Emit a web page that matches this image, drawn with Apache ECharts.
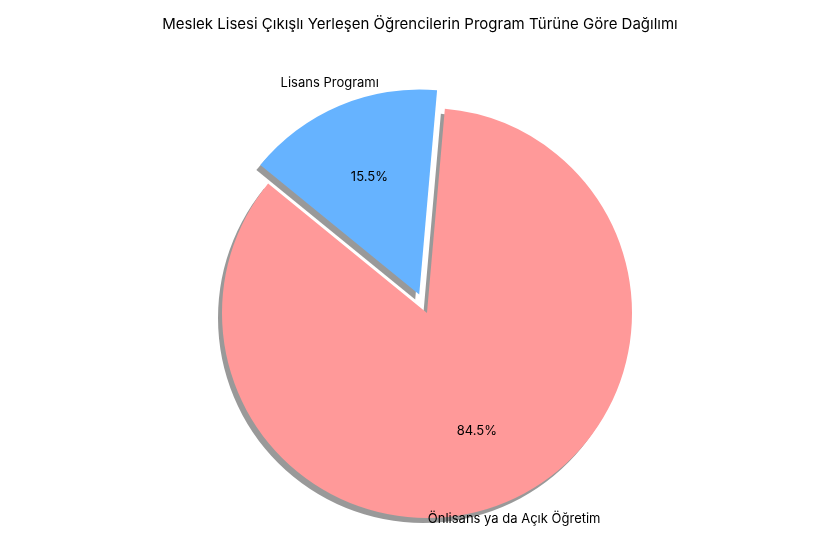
<!DOCTYPE html>
<html><head><meta charset="utf-8">
<script src="https://cdn.jsdelivr.net/npm/echarts@6/dist/echarts.min.js"></script>
<style>html,body{margin:0;background:#fff}#c{width:840px;height:560px}</style>
</head><body><div id="c"></div>
<script>
const categories = ['Lisans Programı', 'Önlisans ya da Açık Öğretim'];
const values = [15.5, 84.5];
const colors = ['#66b3ff', '#ff9999'];
const title = 'Meslek Lisesi Çıkışlı Yerleşen Öğrencilerin Program Türüne Göre Dağılımı';

const chart = echarts.init(document.getElementById('c'));
const R = 205, C = [427, 313];
const font = 'Inter, "Noto Sans", sans-serif';
function base(radius, extra) {
  return Object.assign({
    type: 'pie', center: C, radius: [0, radius], startAngle: 85, clockwise: false,
    selectedMode: 'single', selectedOffset: 20, animation: false, silent: true,
    labelLine: { show: false }
  }, extra);
}
const tr = { color: 'rgba(0,0,0,0)' };
chart.setOption({
  title: { text: title, left: 'center', top: 12, textStyle: { fontFamily: font, fontSize: 15, fontWeight: 'normal', color: '#000' } },
  series: [
    base(R, {
      data: categories.map((n, i) => ({ name: n, value: values[i], selected: i === 0,
        itemStyle: { color: colors[i], shadowColor: 'rgba(0,0,0,0.4)', shadowBlur: 0, shadowOffsetX: -4, shadowOffsetY: 5 } })),
      label: { show: false }
    }),
    base(250, {
      data: categories.map((n, i) => ({ name: n, value: values[i], selected: i === 0, itemStyle: tr })),
      label: { show: true, position: 'inside', formatter: p => values[p.dataIndex].toFixed(1) + '%', fontFamily: font, fontSize: 13, color: '#000' }
    }),
    base(454, {
      data: categories.map((n, i) => ({ name: n, value: values[i], selected: i === 0, itemStyle: tr,
        label: { show: i === 0 } })),
      label: { position: 'inside', align: 'right', formatter: '{b}', fontFamily: font, fontSize: 13, color: '#000' }
    }),
    base(442, {
      data: categories.map((n, i) => ({ name: n, value: values[i], itemStyle: tr,
        label: { show: i === 1 } })),
      label: { position: 'inside', align: 'left', formatter: '{b}', fontFamily: font, fontSize: 13, color: '#000' }
    })
  ]
});
</script></body></html>
